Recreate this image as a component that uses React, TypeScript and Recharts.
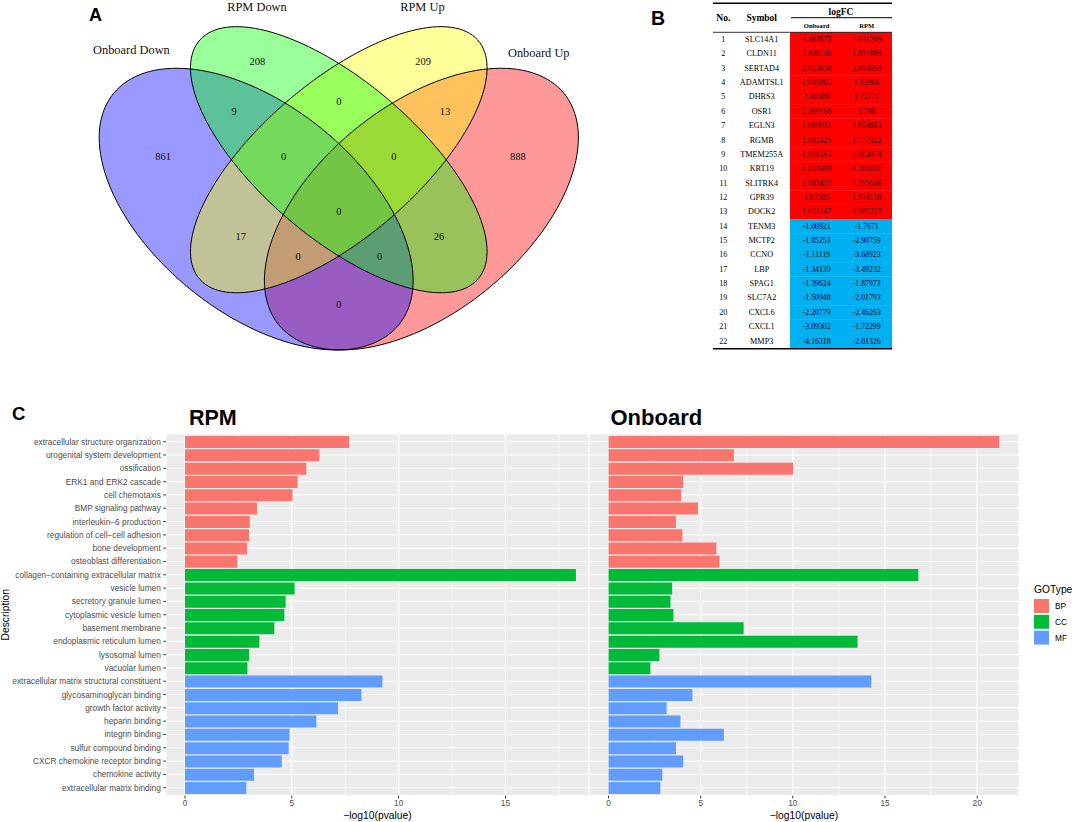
import React from 'react';
import { BarChart, Bar, XAxis, YAxis, CartesianGrid, Cell, ScatterChart, Scatter } from 'recharts';

// ---------- Panel A: Venn diagram ----------
const vennSetNames = ['Onboard Down', 'RPM Down', 'RPM Up', 'Onboard Up'];
const vennColors = ['#0000FF', '#00FF00', '#FFFF00', '#FF0000'];
// region counts: 4 singles, pairs, triples, all
const vennCounts = [861, 208, 209, 888, 9, 13, 0, 0, 0, 0, 17, 26, 0, 0, 0];

// ---------- Panel B: table ----------
const geneSymbols = [
  'SLC14A1', 'CLDN11', 'SERTAD4', 'ADAMTSL1', 'DHRS3', 'OSR1', 'EGLN3', 'RGMB', 'TMEM255A', 'KRT19', 'SLITRK4',
  'GPR39', 'DOCK2', 'TENM3', 'MCTP2', 'CCNO', 'LBP', 'SPAG1', 'SLC7A2', 'CXCL6', 'CXCL1', 'MMP3',
];
const onboardLogFC = [
  3.483675, 2.830146, 2.653658, 1.841065, 1.60309, 1.269166, 1.069031, 1.062425, 1.056161, 1.054494, 1.043452,
  1.02205, 1.021147, -1.00921, -1.05251, -1.11119, -1.34139, -1.39624, -1.50948, -2.20779, -3.09302, -4.16318,
];
const rpmLogFC = [
  2.631269, 1.851989, 2.693959, 1.82966, 1.72771, 1.796, 2.654863, 1.777322, 5.082074, 4.263237, 3.255636,
  1.934138, 2.007223, -1.7671, -2.90759, -3.68923, -3.49232, -1.87973, -2.01793, -2.46263, -1.72299, -2.01326,
];

// ---------- Panel C: GO enrichment ----------
const goTerms = [
  'extracellular structure organization',
  'urogenital system development',
  'ossification',
  'ERK1 and ERK2 cascade',
  'cell chemotaxis',
  'BMP signaling pathway',
  'interleukin−6 production',
  'regulation of cell−cell adhesion',
  'bone development',
  'osteoblast differentiation',
  'collagen−containing extracellular matrix',
  'vesicle lumen',
  'secretory granule lumen',
  'cytoplasmic vesicle lumen',
  'basement membrane',
  'endoplasmic reticulum lumen',
  'lysosomal lumen',
  'vacuolar lumen',
  'extracellular matrix structural constituent',
  'glycosaminoglycan binding',
  'growth factor activity',
  'heparin binding',
  'integrin binding',
  'sulfur compound binding',
  'CXCR chemokine receptor binding',
  'chemokine activity',
  'extracellular matrix binding',
];
const goTypes = [
  'BP', 'BP', 'BP', 'BP', 'BP', 'BP', 'BP', 'BP', 'BP', 'BP',
  'CC', 'CC', 'CC', 'CC', 'CC', 'CC', 'CC', 'CC',
  'MF', 'MF', 'MF', 'MF', 'MF', 'MF', 'MF', 'MF', 'MF',
];
const rpmScores = [
  7.68, 6.29, 5.68, 5.27, 5.03, 3.37, 3.03, 3.0, 2.9, 2.45,
  18.3, 5.13, 4.71, 4.65, 4.18, 3.48, 3.0, 2.92,
  9.24, 8.26, 7.16, 6.15, 4.89, 4.85, 4.53, 3.23, 2.87,
];
const onboardScores = [
  21.2, 6.8, 10.01, 4.05, 3.94, 4.85, 3.66, 4.01, 5.85, 6.02,
  16.81, 3.45, 3.36, 3.52, 7.33, 13.51, 2.76, 2.27,
  14.26, 4.55, 3.15, 3.9, 6.26, 3.66, 4.05, 2.92, 2.81,
];
const goTypeNames = ['BP', 'CC', 'MF'];
const goTypeColors: Record<string, string> = { BP: '#F8766D', CC: '#00BA38', MF: '#619CFF' };
const rpmTicks = [0, 5, 10, 15];
const onboardTicks = [0, 5, 10, 15, 20];

const goData = goTerms.map((term, i) => ({
  term,
  type: goTypes[i],
  rpm: rpmScores[i],
  onboard: onboardScores[i],
}));

// ---------- Venn layout (grid units, VennDiagram-style) ----------
const VENN_W = 640;
const VENN_H = 380;
const VENN_X: [number, number] = [-0.1151, 1.0469];
const VENN_Y: [number, number] = [0.1242, 0.8932];
const vennSx = VENN_W / (VENN_X[1] - VENN_X[0]);
const vennSy = VENN_H / (VENN_Y[1] - VENN_Y[0]);
const ellipseShapes = [
  { gx: 0.35, gy: 0.47, a: 0.35, b: 0.2, rot: 135 },
  { gx: 0.5, gy: 0.57, a: 0.35, b: 0.15, rot: 135 },
  { gx: 0.5, gy: 0.57, a: 0.35, b: 0.15, rot: 45 },
  { gx: 0.65, gy: 0.47, a: 0.35, b: 0.2, rot: 45 },
];
const fillOrder = [3, 0, 2, 1];
const countPos = [
  [0.181, 0.576], [0.352, 0.768], [0.653, 0.768], [0.825, 0.576],
  [0.31, 0.667], [0.693, 0.667], [0.5, 0.687], [0.4, 0.576], [0.6, 0.576], [0.5, 0.465],
  [0.322, 0.414], [0.682, 0.414], [0.426, 0.374], [0.574, 0.374], [0.5, 0.276],
];
const setNamePos = [[0.1235, 0.792], [0.3515, 0.88], [0.6518, 0.88], [0.8631, 0.786]];

function ellipsePath(cx: number, cy: number, a: number, b: number, rot: number) {
  const th = (rot * Math.PI) / 180;
  const c = Math.cos(th);
  const s = Math.sin(th);
  let d = '';
  for (let i = 0; i <= 144; i++) {
    const t = (i / 144) * Math.PI * 2;
    const ex = a * Math.cos(t);
    const ey = b * Math.sin(t);
    const px = cx + (ex * c - ey * s) * vennSx;
    const py = cy - (ex * s + ey * c) * vennSy;
    d += (i ? 'L' : 'M') + px.toFixed(2) + ',' + py.toFixed(2);
  }
  return d + 'Z';
}

const serif = '"Liberation Serif", "Times New Roman", serif';
const sans = '"Liberation Sans", Arial, sans-serif';

function VennPanel() {
  const fills = fillOrder.map((i) => ({ ...ellipseShapes[i], color: vennColors[i] }));
  const counts = vennCounts.map((n, i) => ({ gx: countPos[i][0], gy: countPos[i][1], n }));
  const names = vennSetNames.map((name, i) => ({ gx: setNamePos[i][0], gy: setNamePos[i][1], name }));
  return (
    <ScatterChart width={VENN_W} height={VENN_H} margin={{ top: 0, right: 0, bottom: 0, left: 0 }}>
      <XAxis type="number" dataKey="gx" domain={VENN_X} hide allowDataOverflow height={0} />
      <YAxis type="number" dataKey="gy" domain={VENN_Y} hide allowDataOverflow width={0} />
      <Scatter
        data={fills}
        isAnimationActive={false}
        shape={(p: any) => (
          <path d={ellipsePath(p.cx, p.cy, p.payload.a, p.payload.b, p.payload.rot)} fill={p.payload.color} fillOpacity={0.4} stroke="none" />
        )}
      />
      <Scatter
        data={ellipseShapes}
        isAnimationActive={false}
        shape={(p: any) => (
          <path d={ellipsePath(p.cx, p.cy, p.payload.a, p.payload.b, p.payload.rot)} fill="none" stroke="#000" strokeWidth={1} />
        )}
      />
      <Scatter
        data={counts}
        isAnimationActive={false}
        shape={(p: any) => (
          <text x={p.cx} y={p.cy} textAnchor="middle" dominantBaseline="central" fontFamily={serif} fontSize={10.5} fill="#111">
            {p.payload.n}
          </text>
        )}
      />
      <Scatter
        data={names}
        isAnimationActive={false}
        shape={(p: any) => (
          <text x={p.cx} y={p.cy} textAnchor="middle" dominantBaseline="central" fontFamily={serif} fontSize={12.4} fill="#111">
            {p.payload.name}
          </text>
        )}
      />
    </ScatterChart>
  );
}

function FoldChangeTable() {
  const top = 32.3;
  const rowH = 14.36;
  return (
    <g fontFamily={serif}>
      <line x1={713} x2={892} y1={3.3} y2={3.3} stroke="#000" strokeWidth={1.5} />
      <text x={841} y={12.3} textAnchor="middle" dominantBaseline="central" fontWeight="bold" fontSize={9.5}>logFC</text>
      <line x1={791} x2={892} y1={17.7} y2={17.7} stroke="#000" strokeWidth={1} />
      <text x={723.3} y={18.3} textAnchor="middle" dominantBaseline="central" fontWeight="bold" fontSize={9.5}>No.</text>
      <text x={761.7} y={18.3} textAnchor="middle" dominantBaseline="central" fontWeight="bold" fontSize={9.5}>Symbol</text>
      <text x={816.7} y={25.3} textAnchor="middle" dominantBaseline="central" fontWeight="bold" fontSize={6.6}>Onboard</text>
      <text x={866.7} y={25.3} textAnchor="middle" dominantBaseline="central" fontWeight="bold" fontSize={6.6}>RPM</text>
      {geneSymbols.map((sym, i) => {
        const y = top + i * rowH;
        const up = onboardLogFC[i] > 0;
        const ink = up ? '#3b0000' : '#000';
        return (
          <g key={sym}>
            <rect x={790} y={y} width={102} height={rowH + 0.3} fill={up ? '#FF0000' : '#00B0F0'} />
            <text x={723.3} y={y + rowH / 2} textAnchor="middle" dominantBaseline="central" fontSize={8}>{i + 1}</text>
            <text x={761.7} y={y + rowH / 2} textAnchor="middle" dominantBaseline="central" fontSize={8.2}>{sym}</text>
            <text x={816.7} y={y + rowH / 2} textAnchor="middle" dominantBaseline="central" fontSize={7.8} fill={ink}>{String(onboardLogFC[i])}</text>
            <text x={866.7} y={y + rowH / 2} textAnchor="middle" dominantBaseline="central" fontSize={7.8} fill={ink}>{String(rpmLogFC[i])}</text>
          </g>
        );
      })}
      <line x1={713} x2={892} y1={top} y2={top} stroke="#000" strokeWidth={0.8} />
      <line x1={713} x2={892} y1={top + 22 * rowH + 0.5} y2={top + 22 * rowH + 0.5} stroke="#000" strokeWidth={1.5} />
    </g>
  );
}

const tickStyle = { fontSize: 8.3, fill: '#4D4D4D' };

// single-line category labels (no wrapping)
function TermTick(props: any) {
  const { x, y, payload } = props;
  return (
    <text x={x} y={y} textAnchor="end" dominantBaseline="central" fontSize={8.3} fill="#4D4D4D">
      {payload.value}
    </text>
  );
}

function GoPanel({ dataKey, domain, ticks, minor, showLabels, width, marginRight }: any) {
  return (
    <BarChart
      width={width}
      height={422}
      data={goData}
      layout="vertical"
      barSize={12}
      margin={{ top: 33.7, right: marginRight, bottom: 0, left: 0 }}
      style={{ fontFamily: sans }}
    >
      <CartesianGrid fill="#EBEBEB" stroke="#FFFFFF" strokeWidth={1.1} />
      <CartesianGrid horizontal={false} stroke="#FFFFFF" strokeWidth={0.55} verticalValues={minor} />
      <XAxis
        type="number"
        domain={domain}
        ticks={ticks}
        allowDataOverflow
        axisLine={false}
        tickLine={{ stroke: '#333333' }}
        tickSize={2.7}
        tickMargin={2}
        tick={tickStyle}
        height={26.3}
        label={{ value: '−log10(pvalue)', position: 'insideBottom', offset: 3.3, fill: '#000', fontSize: 10.3 }}
      />
      {showLabels ? (
        <YAxis
          type="category"
          dataKey="term"
          width={166}
          interval={0}
          axisLine={false}
          tickLine={{ stroke: '#333333' }}
          tickSize={2.7}
          tickMargin={2.5}
          tick={<TermTick />}
          padding={{ top: 1.33, bottom: 1.33 }}
        />
      ) : (
        <YAxis type="category" dataKey="term" hide width={0} interval={0} padding={{ top: 1.33, bottom: 1.33 }} />
      )}
      <Bar dataKey={dataKey} isAnimationActive={false}>
        {goData.map((d) => (
          <Cell key={d.term} fill={goTypeColors[d.type]} />
        ))}
      </Bar>
    </BarChart>
  );
}

export default function App() {
  return (
    <div style={{ position: 'absolute', left: 0, top: 0, width: 1072, height: 822, overflow: 'hidden', background: '#fff' }}>
      <div style={{ position: 'absolute', left: 0, top: 0 }}>
        <VennPanel />
      </div>
      <div style={{ position: 'absolute', left: 0, top: 400 }}>
        <GoPanel dataKey="rpm" domain={[-0.89, 18.91]} ticks={rpmTicks} minor={[2.5, 7.5, 12.5, 17.5]} showLabels width={600} marginRight={11} />
      </div>
      <div style={{ position: 'absolute', left: 589, top: 400 }}>
        <GoPanel dataKey="onboard" domain={[-1.06, 22.27]} ticks={onboardTicks} minor={[2.5, 7.5, 12.5, 17.5]} showLabels={false} width={430} marginRight={0} />
      </div>
      <svg width={1072} height={822} style={{ position: 'absolute', left: 0, top: 0, pointerEvents: 'none' }}>
        <text x={89} y={20.7} fontFamily={sans} fontWeight="bold" fontSize={18}>A</text>
        <text x={651} y={24.5} fontFamily={sans} fontWeight="bold" fontSize={19.5}>B</text>
        <text x={12} y={420} fontFamily={sans} fontWeight="bold" fontSize={18.5}>C</text>
        <text x={189} y={425} fontFamily={sans} fontWeight="bold" fontSize={21.5}>RPM</text>
        <text x={610.5} y={425} fontFamily={sans} fontWeight="bold" fontSize={22}>Onboard</text>
        <text
          x={5.5}
          y={614.7}
          transform="rotate(-90 5.5 614.7)"
          textAnchor="middle"
          dominantBaseline="central"
          fontFamily={sans}
          fontSize={10.3}
        >
          Description
        </text>
        <FoldChangeTable />
        <g fontFamily={sans}>
          <text x={1034} y={589} dominantBaseline="central" fontSize={10.3}>GOType</text>
          {goTypeNames.map((t, i) => (
            <g key={t}>
              <rect x={1034} y={599 + i * 15.8} width={15} height={14} fill={goTypeColors[t]} />
              <text x={1055} y={606 + i * 15.8} dominantBaseline="central" fontSize={8.3} fill="#000">{t}</text>
            </g>
          ))}
        </g>
      </svg>
    </div>
  );
}
